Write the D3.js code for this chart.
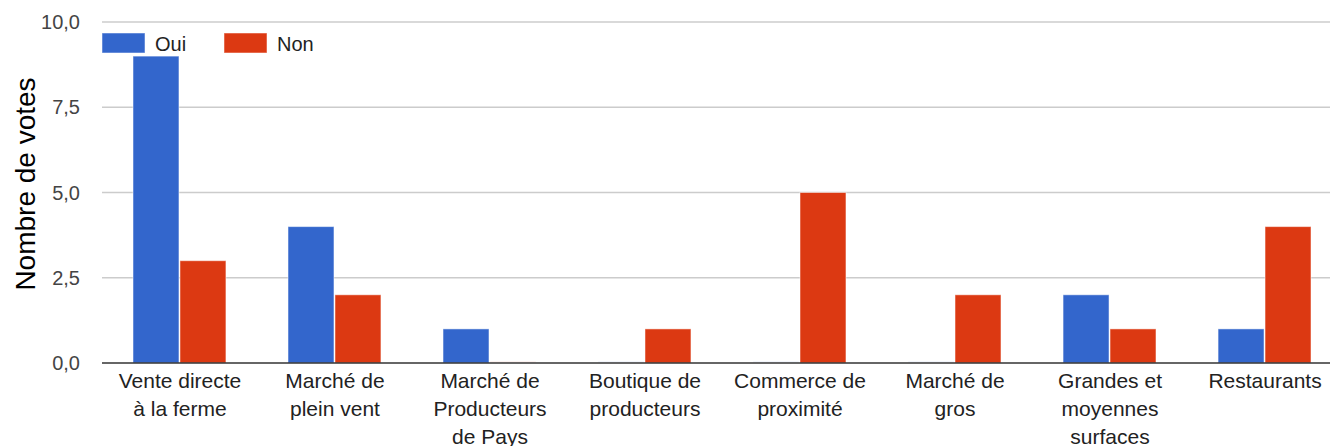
<!DOCTYPE html>
<html>
<head>
<meta charset="utf-8">
<script src="https://cdn.jsdelivr.net/npm/d3@7"></script>
<style>
  body { margin: 0; background: #fff; }
  svg { font-family: "Liberation Sans", Arial, sans-serif; }
</style>
</head>
<body>
<div id="chart"></div>
<script>
var categories = [
  ["Vente directe", "à la ferme"],
  ["Marché de", "plein vent"],
  ["Marché de", "Producteurs", "de Pays"],
  ["Boutique de", "producteurs"],
  ["Commerce de", "proximité"],
  ["Marché de", "gros"],
  ["Grandes et", "moyennes", "surfaces"],
  ["Restaurants"]
];
var oui = [9, 4, 1, 0, 0, 0, 2, 1];
var non = [3, 2, 0, 1, 5, 2, 1, 4];
var seriesNames = ["Oui", "Non"];
var yTicks = [0, 2.5, 5, 7.5, 10];

var W = 1330, H = 446;
var margin = {top: 22, left: 102};
var width = 1241,
    height = 341;

var colors = {Oui: "#3366cc", Non: "#dc3912"};

var svg = d3.select("#chart").append("svg")
  .attr("width", W).attr("height", H);
var g = svg.append("g")
  .attr("transform", "translate(" + margin.left + "," + margin.top + ")");

var x = d3.scaleBand()
  .domain(d3.range(categories.length))
  .range([0, width])
  .paddingInner(0.394)
  .paddingOuter(0.2);

var x1 = d3.scaleBand()
  .domain(seriesNames)
  .range([0, x.bandwidth()]);

var y = d3.scaleLinear().domain([0, 10]).range([height, 0]);

var fmt = function(d) { return d3.format(".1f")(d).replace(".", ","); };

// gridlines
g.selectAll(".grid").data(yTicks.slice(1)).enter().append("line")
  .attr("x1", 0).attr("x2", W - margin.left)
  .attr("y1", function(d) { return y(d); })
  .attr("y2", function(d) { return y(d); })
  .attr("stroke", "#cccccc").attr("stroke-width", 1.5);

// y tick labels
g.selectAll(".ylab").data(yTicks).enter().append("text")
  .attr("x", -22)
  .attr("y", function(d) { return y(d) + 7; })
  .attr("text-anchor", "end")
  .attr("font-size", 20)
  .attr("fill", "#444")
  .text(fmt);

// bars
var data = categories.map(function(c, i) {
  return [{s: "Oui", v: oui[i]}, {s: "Non", v: non[i]}];
});

var groups = g.selectAll(".grp").data(data).enter().append("g")
  .attr("transform", function(d, i) { return "translate(" + x(i) + ",0)"; });

groups.selectAll("rect").data(function(d) { return d; }).enter().append("rect")
  .attr("x", function(d) { return x1(d.s); })
  .attr("width", x1.bandwidth() - 1)
  .attr("y", function(d) { return d.v > 0 ? y(d.v) : y(0) - 2; })
  .attr("height", function(d) { return d.v > 0 ? y(0) - y(d.v) : 2; })
  .attr("fill", function(d) { return colors[d.s]; })
  .attr("fill-opacity", function(d) { return d.v > 0 ? 1 : 0.08; })
  .attr("stroke", "#ffffff")
  .attr("stroke-opacity", 0.5)
  .attr("stroke-width", 1);

// baseline
g.append("line")
  .attr("x1", 0).attr("x2", W - margin.left)
  .attr("y1", y(0)).attr("y2", y(0))
  .attr("stroke", "#333").attr("stroke-width", 1.5);

// x labels
var xl = g.selectAll(".xlab").data(categories).enter().append("text")
  .attr("text-anchor", "middle")
  .attr("font-size", 21)
  .attr("fill", "#222")
  .attr("transform", function(d, i) {
    return "translate(" + (x(i) + x.bandwidth() / 2) + "," + (height + 25) + ")";
  });
xl.selectAll("tspan").data(function(d) { return d; }).enter().append("tspan")
  .attr("x", 0)
  .attr("dy", function(d, j) { return j === 0 ? 0 : 28; })
  .text(function(d) { return d; });

// y axis title
svg.append("text")
  .attr("transform", "translate(35,184) rotate(-90)")
  .attr("text-anchor", "middle")
  .attr("font-size", 28)
  .attr("fill", "#000")
  .text("Nombre de votes");

// legend
var legend = svg.append("g").attr("transform", "translate(102,33)");
var li = legend.selectAll(".li").data(seriesNames).enter().append("g")
  .attr("transform", function(d, i) { return "translate(" + (i * 122) + ",0)"; });
li.append("rect")
  .attr("width", 43).attr("height", 20)
  .attr("fill", function(d) { return colors[d]; })
  .attr("stroke", "#ffffff").attr("stroke-opacity", 0.5);
li.append("text")
  .attr("x", 53).attr("y", 18)
  .attr("font-size", 20)
  .attr("fill", "#222")
  .text(function(d) { return d; });
</script>
</body>
</html>
